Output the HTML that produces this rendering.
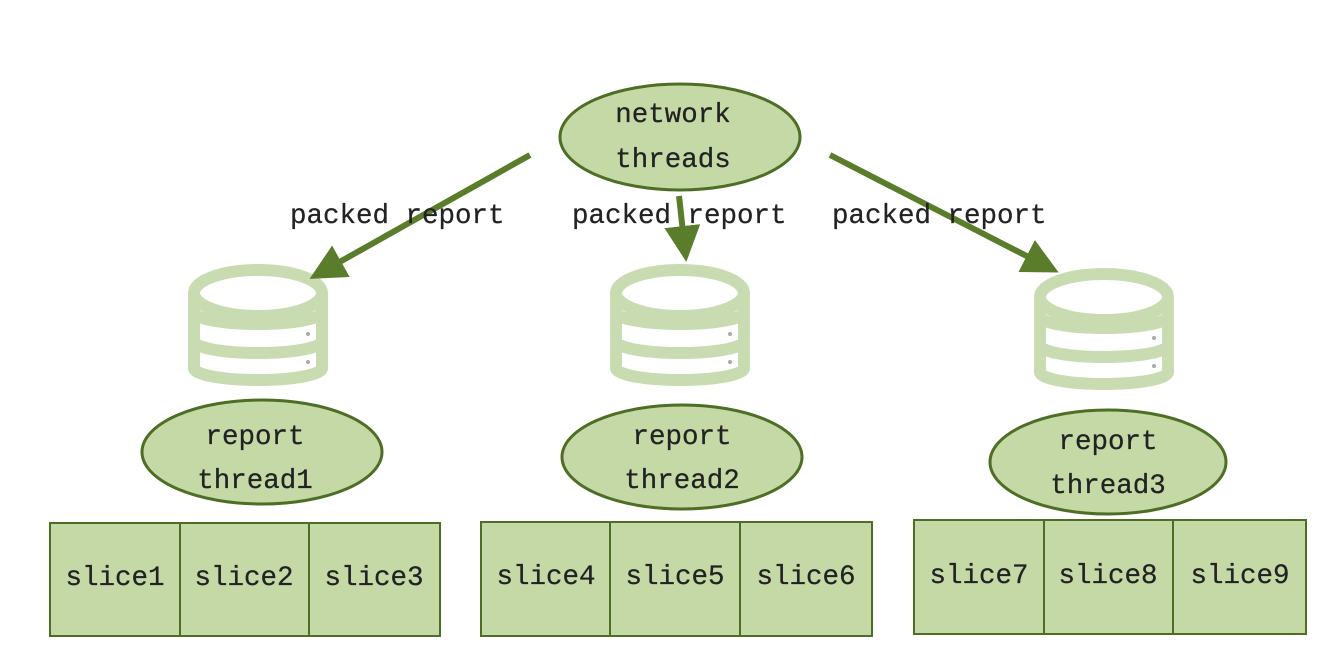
<!DOCTYPE html>
<html><head><meta charset="utf-8"><style>
body{margin:0;background:#fff}
text{font-family:"Liberation Mono",monospace;font-size:27.5px;fill:#222;stroke:#222;stroke-width:0.25}
</style></head><body>
<svg width="1338" height="648" viewBox="0 0 1338 648" xmlns="http://www.w3.org/2000/svg">
<defs>
<g id="db" fill="#fff" stroke="#c9dcb1" stroke-width="12">
<path d="M6,31 V106 A64,12 0 0 0 134,106 V31" fill="#fff"/>
<path d="M6,50 A64,12 0 0 0 134,50" fill="none"/>
<path d="M6,79 A64,12 0 0 0 134,79" fill="none"/>
<ellipse cx="70" cy="31" rx="64" ry="23"/>
<circle cx="120" cy="72" r="2" fill="#aaa" stroke="none"/>
<circle cx="120" cy="100" r="2" fill="#aaa" stroke="none"/>
</g>
<marker id="ah" markerWidth="6" markerHeight="6" refX="4" refY="3" orient="auto" markerUnits="strokeWidth">
<path d="M0,0 L6,3 L0,6 z" fill="#5a7d2b"/>
</marker>
</defs>

<use href="#db" x="188" y="262"/>
<use href="#db" x="610" y="262"/>
<use href="#db" x="1034" y="266"/>

<g fill="#c4d9a6" stroke="#4d6e24" stroke-width="3">
<ellipse cx="680" cy="137" rx="120" ry="53"/>
<ellipse cx="262" cy="452" rx="120" ry="52"/>
<ellipse cx="682" cy="457" rx="120" ry="52"/>
<ellipse cx="1108" cy="462" rx="118" ry="52"/>
</g>
<text x="673" y="122" text-anchor="middle">network</text>
<text x="673" y="167" text-anchor="middle">threads</text>
<text x="255" y="444" text-anchor="middle">report</text>
<text x="255" y="488" text-anchor="middle">thread1</text>
<text x="682" y="444" text-anchor="middle">report</text>
<text x="682" y="488" text-anchor="middle">thread2</text>
<text x="1108" y="449" text-anchor="middle">report</text>
<text x="1108" y="493" text-anchor="middle">thread3</text>

<g stroke="#5a7d2b" stroke-width="6" fill="none" marker-end="url(#ah)">
<line x1="530" y1="155" x2="320" y2="273"/>
<line x1="679" y1="196" x2="685" y2="250"/>
<line x1="830" y1="155" x2="1048" y2="267"/>
</g>
<text x="290" y="223">packed report</text>
<text x="572" y="223">packed report</text>
<text x="832" y="223">packed report</text>

<g fill="#c4d9a6" stroke="#4d6e24" stroke-width="2">
<rect x="50" y="523" width="130" height="113"/><rect x="180" y="523" width="129" height="113"/><rect x="309" y="523" width="131" height="113"/>
<rect x="481" y="522" width="129" height="114"/><rect x="610" y="522" width="130" height="114"/><rect x="740" y="522" width="132" height="114"/>
<rect x="914" y="520" width="130" height="114"/><rect x="1044" y="520" width="129" height="114"/><rect x="1173" y="520" width="133" height="114"/>
</g>
<text x="115" y="585" text-anchor="middle">slice1</text>
<text x="244" y="585" text-anchor="middle">slice2</text>
<text x="374" y="585" text-anchor="middle">slice3</text>
<text x="546" y="584" text-anchor="middle">slice4</text>
<text x="675" y="584" text-anchor="middle">slice5</text>
<text x="806" y="584" text-anchor="middle">slice6</text>
<text x="979" y="583" text-anchor="middle">slice7</text>
<text x="1108" y="583" text-anchor="middle">slice8</text>
<text x="1240" y="583" text-anchor="middle">slice9</text>
</svg>
</body></html>
